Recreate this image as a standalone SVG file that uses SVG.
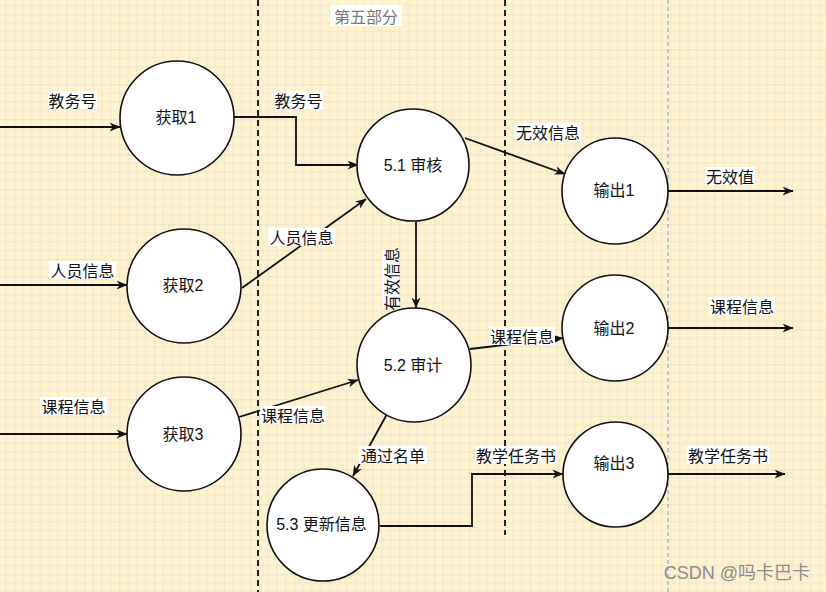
<svg xmlns="http://www.w3.org/2000/svg" width="826" height="592" viewBox="0 0 826 592">
<defs>
<pattern id="grid" patternUnits="userSpaceOnUse" x="14.3" y="14.3" width="35" height="35">
<path d="M8.75,0 V35 M17.5,0 V35 M26.25,0 V35 M0,8.75 H35 M0,17.5 H35 M0,26.25 H35" stroke="#ece8d6" stroke-width="1" fill="none"/>
<path d="M0,0 V35 M0,0 H35" stroke="#dfdcd2" stroke-width="1.3" fill="none"/>
</pattern>
<marker id="arr" viewBox="0 0 10 8" markerWidth="11" markerHeight="9" refX="9.5" refY="4" orient="auto" markerUnits="userSpaceOnUse">
<path d="M0,0 L10,4 L0,8 L3,4 Z" fill="#111"/>
</marker>
</defs>
<style>
.node circle{fill:#fff;stroke:#111;stroke-width:1.6}
.nt{font-family:"Liberation Sans","Noto Sans CJK SC",sans-serif;font-size:16px;fill:#111;text-anchor:middle;dominant-baseline:central}
.lb rect{fill:#fff}
.lt{font-family:"Noto Sans CJK SC","Liberation Sans",sans-serif;font-size:16px;fill:#111;text-anchor:middle;dominant-baseline:central}
.edge{fill:none;stroke:#111;stroke-width:1.8;marker-end:url(#arr)}
</style>
<rect width="826" height="592" fill="#fff2cc"/>
<rect width="826" height="592" fill="url(#grid)"/>

<g id="dividers">
<line x1="258" y1="0" x2="258" y2="592" stroke="#222" stroke-width="2" stroke-dasharray="6 4"/>
<line x1="505" y1="0" x2="505" y2="535" stroke="#222" stroke-width="2" stroke-dasharray="6 4"/>
<line x1="668" y1="0" x2="668" y2="592" stroke="#c4c4c4" stroke-width="2" stroke-dasharray="4 3"/>
</g>

<g id="title">
<rect x="330" y="5" width="72" height="21" fill="#fff"/>
<text x="366" y="16" font-family="Noto Sans CJK SC, sans-serif" font-size="16" fill="#777" text-anchor="middle" dominant-baseline="central">第五部分</text>
</g>

<g id="connectors">
<path class="edge" d="M0,127 H120"/>
<path class="edge" d="M0,285 H127"/>
<path class="edge" d="M0,434 H127"/>
<path class="edge" d="M234,117 H296 V165 H358"/>
<path class="edge" d="M242,288 L366,199"/>
<path class="edge" d="M239,417 L358,380"/>
<path class="edge" d="M465,138 L565,174"/>
<path class="edge" d="M416,222 V308"/>
<path class="edge" d="M470,349 L563,338"/>
<path class="edge" d="M387,414 L353,476"/>
<path class="edge" d="M380,526 H472 V474 H563"/>
<path class="edge" d="M668,191 H793"/>
<path class="edge" d="M668,328 H793"/>
<path class="edge" d="M668,474 H785"/>
</g>

<g id="labels">
<g class="lb"><rect x="48" y="91" width="49" height="18"/><text class="lt" x="72.5" y="100">教务号</text></g>
<g class="lb"><rect x="49" y="261" width="67" height="18"/><text class="lt" x="82.5" y="270">人员信息</text></g>
<g class="lb"><rect x="40" y="397" width="67" height="18"/><text class="lt" x="73.5" y="406">课程信息</text></g>
<g class="lb"><rect x="274" y="91" width="49" height="18"/><text class="lt" x="298.5" y="100">教务号</text></g>
<g class="lb"><rect x="268" y="228" width="67" height="18"/><text class="lt" x="301.5" y="237">人员信息</text></g>
<g class="lb"><rect x="260" y="406" width="66" height="18"/><text class="lt" x="293" y="415">课程信息</text></g>
<g class="lb"><rect x="515" y="123" width="66" height="18"/><text class="lt" x="548" y="132">无效信息</text></g>
<g class="lb"><rect x="382" y="250" width="17" height="58"/><text class="lt" x="390.5" y="279" font-size="14.5" transform="rotate(-90 390.5 279)">有效信息</text></g>
<g class="lb"><rect x="489" y="327" width="66" height="18"/><text class="lt" x="522" y="336">课程信息</text></g>
<g class="lb"><rect x="359" y="446" width="68" height="18"/><text class="lt" x="393" y="455">通过名单</text></g>
<g class="lb"><rect x="475" y="446" width="82" height="18"/><text class="lt" x="516" y="455">教学任务书</text></g>
<g class="lb"><rect x="705" y="167" width="50" height="18"/><text class="lt" x="730" y="176">无效值</text></g>
<g class="lb"><rect x="709" y="297" width="66" height="18"/><text class="lt" x="742" y="306">课程信息</text></g>
<g class="lb"><rect x="687" y="446" width="82" height="18"/><text class="lt" x="728" y="455">教学任务书</text></g>
</g>

<g id="n-huoqu1" class="node"><circle cx="177" cy="118" r="57"/><text class="nt" x="176" y="117">获取1</text></g>
<g id="n-huoqu2" class="node"><circle cx="184" cy="286" r="57"/><text class="nt" x="183" y="285">获取2</text></g>
<g id="n-huoqu3" class="node"><circle cx="184" cy="434" r="57"/><text class="nt" x="183" y="434">获取3</text></g>
<g id="n-5-1" class="node"><circle cx="413" cy="165" r="56"/><text class="nt" x="413" y="165">5.1 审核</text></g>
<g id="n-5-2" class="node"><circle cx="414" cy="365" r="57"/><text class="nt" x="413" y="365">5.2 审计</text></g>
<g id="n-5-3" class="node"><circle cx="323" cy="525" r="56"/><text class="nt" x="321.5" y="524">5.3 更新信息</text></g>
<g id="n-out1" class="node"><circle cx="615" cy="191" r="53"/><text class="nt" x="614" y="190">输出1</text></g>
<g id="n-out2" class="node"><circle cx="615" cy="328" r="53"/><text class="nt" x="614" y="328">输出2</text></g>
<g id="n-out3" class="node"><circle cx="615.5" cy="474.5" r="52.5"/><text class="nt" x="614" y="463">输出3</text></g>

<text x="810" y="573" font-family="Liberation Sans, Noto Sans CJK SC, sans-serif" font-size="18" fill="#8c8c8c" text-anchor="end" dominant-baseline="central">CSDN @吗卡巴卡</text>
</svg>
